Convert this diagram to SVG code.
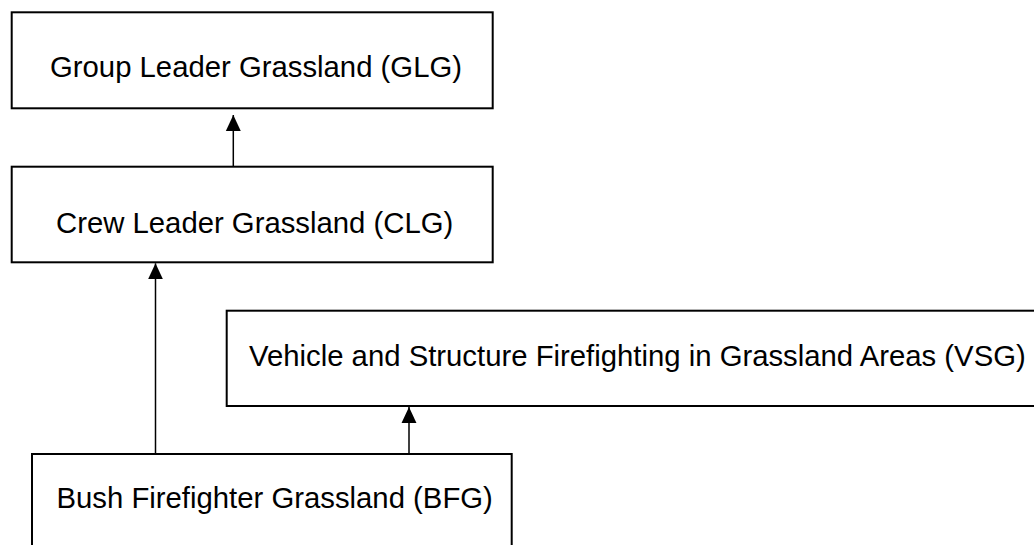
<svg xmlns="http://www.w3.org/2000/svg" width="1034" height="545" viewBox="0 0 1034 545">
  <style>
    .box { fill: #ffffff; stroke: #000000; stroke-width: 2; }
    .label { font-family: "Liberation Sans", Arial, sans-serif; font-size: 29.3px; fill: #000000; }
    .edge { stroke: #000000; stroke-width: 1.5; fill: none; marker-end: url(#head); }
  </style>
  <defs>
    <marker id="head" markerUnits="userSpaceOnUse" markerWidth="16" markerHeight="16" viewBox="0 0 15 14" refX="15" refY="7" orient="auto">
      <path d="M0,0 L15,7 L0,14 Z" fill="#000000"/>
    </marker>
  </defs>
  <rect width="1034" height="545" fill="#ffffff"/>

  <g id="glg">
    <rect class="box" x="11.7" y="12.3" width="481" height="96"/>
    <text class="label" x="50" y="77">Group Leader Grassland (GLG)</text>
  </g>

  <g id="clg">
    <rect class="box" x="11.7" y="166.7" width="481" height="95.6"/>
    <text class="label" x="56" y="233.3">Crew Leader Grassland (CLG)</text>
  </g>

  <g id="vsg">
    <rect class="box" x="226.7" y="310.7" width="840" height="95.3"/>
    <text class="label" x="249" y="365.5">Vehicle and Structure Firefighting in Grassland Areas (VSG)</text>
  </g>

  <g id="bfg">
    <rect class="box" x="32" y="454" width="479.7" height="120"/>
    <text class="label" x="56.5" y="507.5">Bush Firefighter Grassland (BFG)</text>
  </g>

  <g id="connectors">
    <line class="edge" x1="233.3" y1="166.7" x2="233.3" y2="115"/>
    <line class="edge" x1="155.5" y1="454" x2="155.5" y2="263.3"/>
    <line class="edge" x1="409" y1="454" x2="409" y2="407"/>
  </g>
</svg>
